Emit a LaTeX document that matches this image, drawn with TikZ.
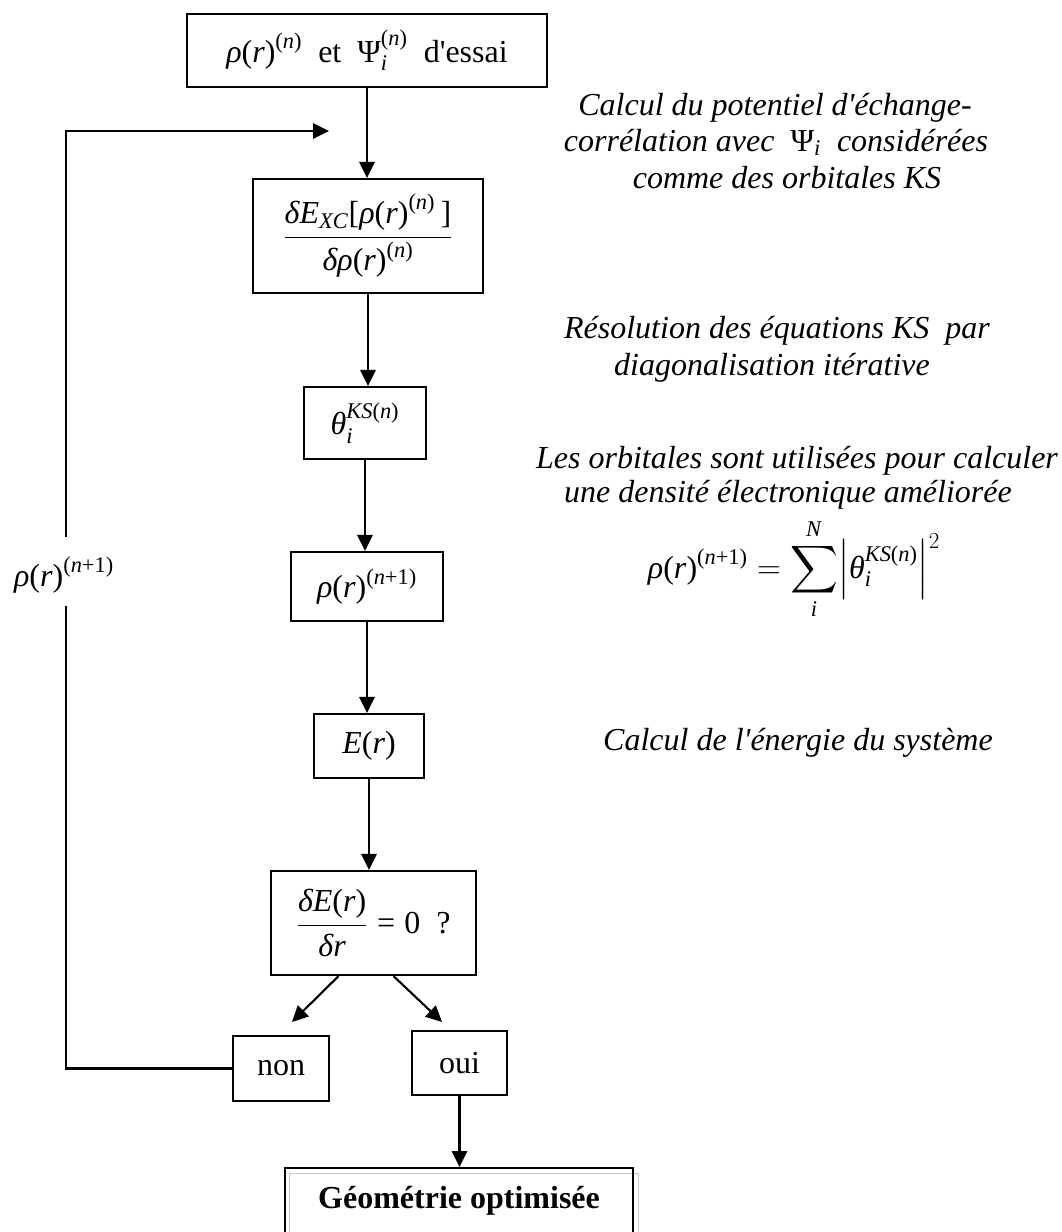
\documentclass[tikz,border=0pt]{standalone}
\usepackage{amsmath}
\usepackage{fontspec}
\setmainfont{Liberation Serif}
\usetikzlibrary{arrows.meta,calc}
\newcommand\px{0.75pt}
\newcommand\iT[1]{\textit{#1}}
\newcommand\apo{\textquotesingle{}}
\begin{document}
\begin{tikzpicture}[x=0.75pt,y=-0.75pt,
  every node/.style={font=\fontsize{24}{27.6}\selectfont, inner sep=0pt},
  box/.style n args={2}{draw, line width=1.6pt, minimum width=#1*\px, minimum height=#2*\px},
  arr/.style={line width=1.6pt, -{Triangle[length=12pt,width=11.5pt]}},
  ln/.style={line width=1.6pt},
  note/.style={anchor=base, font=\fontsize{24}{27.6}\selectfont\itshape}
]
\useasboundingbox (0,0) rectangle (1061,1232);

% flow boxes
\node[box={360}{73}] (n1) at (367,50.5)
  {$\text{\iT{ρ}(\iT{r})}^{\text{(\iT{n})}}$\ \ et\ \ $\text{Ψ}_{\text{\iT{i}}}^{\text{(\iT{n})}}$\ \ d\apo essai};
\node[box={230}{114}] (n2) at (368,236)
  {$\dfrac{\text{\iT{δE}}_{\text{\iT{XC}}}\text{[\iT{ρ}(\iT{r})}^{\text{(\iT{n})}}\text{\,]}}{\text{\iT{δρ}(\iT{r})}^{\text{(\iT{n})}}}$};
\node[box={122}{72}] (n3) at (365,423)
  {$\text{\iT{θ}}_{\text{\iT{i}}}^{\text{\iT{KS}(\iT{n})}}$};
\node[box={152}{69}] (n4) at (367,586.5)
  {$\text{\iT{ρ}(\iT{r})}^{\text{(\iT{n}+1)}}$};
\node[box={110}{64}] (n5) at (369,746) {\iT{E}(\iT{r})};
\node[box={205}{104}] (n6) at (373.5,923)
  {$\dfrac{\text{\iT{δE}(\iT{r})}}{\text{\iT{δr}}}\mathrel{\text{=}}\text{0\ \ ?}$};
\node[box={96}{65}] (non) at (281,1068.5) {non};
\node[box={95}{64}] (oui) at (459.5,1063) {oui};
\draw[gray!45, line width=0.6pt] (289,1260) |- (638,1173) -- (638,1260);
\node[draw, line width=1.6pt, anchor=north, minimum width=348*\px, text height=30pt, text depth=60pt,
  font=\fontsize{24}{27.6}\selectfont\bfseries] (geo) at (459,1167) {Géométrie optimisée};

% connectors
\coordinate (nonT) at (292,1022);
\coordinate (ouiT) at (442,1022);
\draw[arr] (n1.south) -- (n1.south |- n2.north);
\draw[arr] (n2.south) -- (n2.south |- n3.north);
\draw[arr] (n3.south) -- (n3.south |- n4.north);
\draw[arr] (n4.south) -- (n4.south |- n5.north);
\draw[arr] (n5.south) -- (n5.south |- n6.north);
\draw[arr] ($(n6.south)+(-35,0)$) -- (nonT);
\draw[arr] ($(n6.south)+(20,0)$) -- (ouiT);
\draw[arr] (oui.south) -- (oui.south |- geo.north);

% feedback loop
\node (lab) at (64,575) {$\text{\iT{ρ}(\iT{r})}^{\text{(\iT{n}+1)}}$};
\coordinate (gb) at (66,606);
\coordinate (gt) at (66,537);
\coordinate (re) at (329,131);
\draw[ln] (non.west) -| (gb);
\draw[arr] (gt) |- (re);

% annotations
\node[note] (c1a) at (775,115) {Calcul du potentiel d\apo échange-};
\node[note] (c1b) at (776,151) {corrélation avec \ $\text{\upshape Ψ}_{\text{\iT{i}}}$ \ considérées};
\node[note] (c1c) at (787,188) {comme des orbitales KS};
\node[note] (c2a) at (777,338) {Résolution des équations KS \ par};
\node[note] (c2b) at (772,375) {diagonalisation itérative};
\node[note] (c3a) at (797,468) {Les orbitales sont utilisées pour calculer};
\node[note] (c3b) at (788,502) {une densité électronique améliorée};
\node[anchor=base] (c3c) at (794,578)
  {$\text{\iT{ρ}(\iT{r})}^{\text{(\iT{n}+1)}} = \displaystyle\sum_{\text{\iT{i}}}^{\text{\iT{N}}}\!\left|\text{\iT{θ}}_{\text{\iT{i}}}^{\text{\iT{KS}(\iT{n})}}\right|^{2}$};
\node[note] (c4) at (798,750) {Calcul de l\apo énergie du système};
\end{tikzpicture}
\end{document}
